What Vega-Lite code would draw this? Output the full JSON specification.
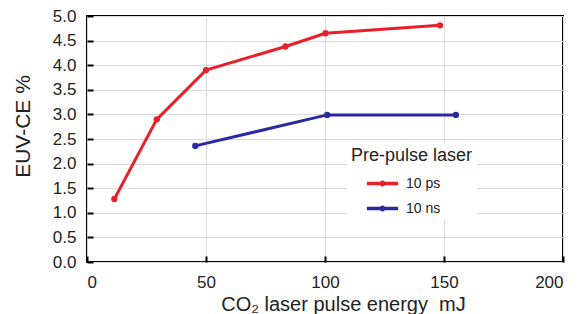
{
  "$schema": "https://vega.github.io/schema/vega-lite/v6.json",
  "width": 476,
  "height": 246,
  "autosize": {"type": "none"},
  "padding": {"left": 87, "top": 16, "right": 18, "bottom": 52},
  "background": "white",
  "config": {
    "font": "Liberation Sans",
    "view": {"stroke": "black", "strokeWidth": 2},
    "axis": {"domain": false, "gridColor": "#d9d9d9", "gridWidth": 1, "tickColor": "black", "tickWidth": 2, "labelColor": "#222", "titleColor": "#222", "titleFontWeight": "normal"}
  },
  "data": {
    "values": [
      {"energy": 11.5, "ce": 1.28, "laser": "10 ps"},
      {"energy": 29.3, "ce": 2.9, "laser": "10 ps"},
      {"energy": 50, "ce": 3.9, "laser": "10 ps"},
      {"energy": 83.4, "ce": 4.38, "laser": "10 ps"},
      {"energy": 100.2, "ce": 4.65, "laser": "10 ps"},
      {"energy": 148.3, "ce": 4.81, "laser": "10 ps"},
      {"energy": 45.5, "ce": 2.36, "laser": "10 ns"},
      {"energy": 100.9, "ce": 2.99, "laser": "10 ns"},
      {"energy": 155, "ce": 2.99, "laser": "10 ns"}
    ]
  },
  "encoding": {
    "x": {
      "field": "energy", "type": "quantitative",
      "scale": {"domain": [0, 200], "nice": false},
      "axis": {"values": [0, 50, 100, 150, 200], "tickSize": -6, "labelFontSize": 17, "labelPadding": 18, "title": "CO₂ laser pulse energy\u00a0\u00a0mJ", "titleFontSize": 20, "titleX": 256, "titleY": 42, "titleBaseline": "middle"}
    },
    "y": {
      "field": "ce", "type": "quantitative",
      "scale": {"domain": [0, 5], "nice": false},
      "axis": {"values": [0, 0.5, 1, 1.5, 2, 2.5, 3, 3.5, 4, 4.5, 5], "format": ".1f", "tickSize": -6, "labelFontSize": 17, "labelPadding": 17, "title": "EUV-CE %", "titleFontSize": 21, "titleX": -64, "titleY": 110, "titleBaseline": "middle", "titleAlign": "center"}
    },
    "color": {
      "field": "laser", "type": "nominal",
      "scale": {"domain": ["10 ps", "10 ns"], "range": ["#e8202c", "#2a2a9e"]},
      "legend": {
        "title": "Pre-pulse laser", "orient": "none", "legendX": 260, "legendY": 127,
        "titleFontSize": 18, "titleFontWeight": "normal", "titleColor": "#222", "titlePadding": 6,
        "labelFontSize": 14, "labelColor": "#222", "labelOffset": 11, "symbolOffset": 19,
        "symbolType": "M-1.25,-0.14L1.25,-0.14L1.25,0.14L-1.25,0.14Z M0.24,0A0.24,0.24 0 1,1 -0.24,0A0.24,0.24 0 1,1 0.24,0Z",
        "symbolSize": 625, "symbolStrokeWidth": 0, "rowPadding": 5,
        "fillColor": "white", "padding": 4
      }
    }
  },
  "layer": [
    {"mark": {"type": "line", "strokeWidth": 3}},
    {"mark": {"type": "point", "filled": true, "size": 40, "opacity": 1}}
  ]
}
